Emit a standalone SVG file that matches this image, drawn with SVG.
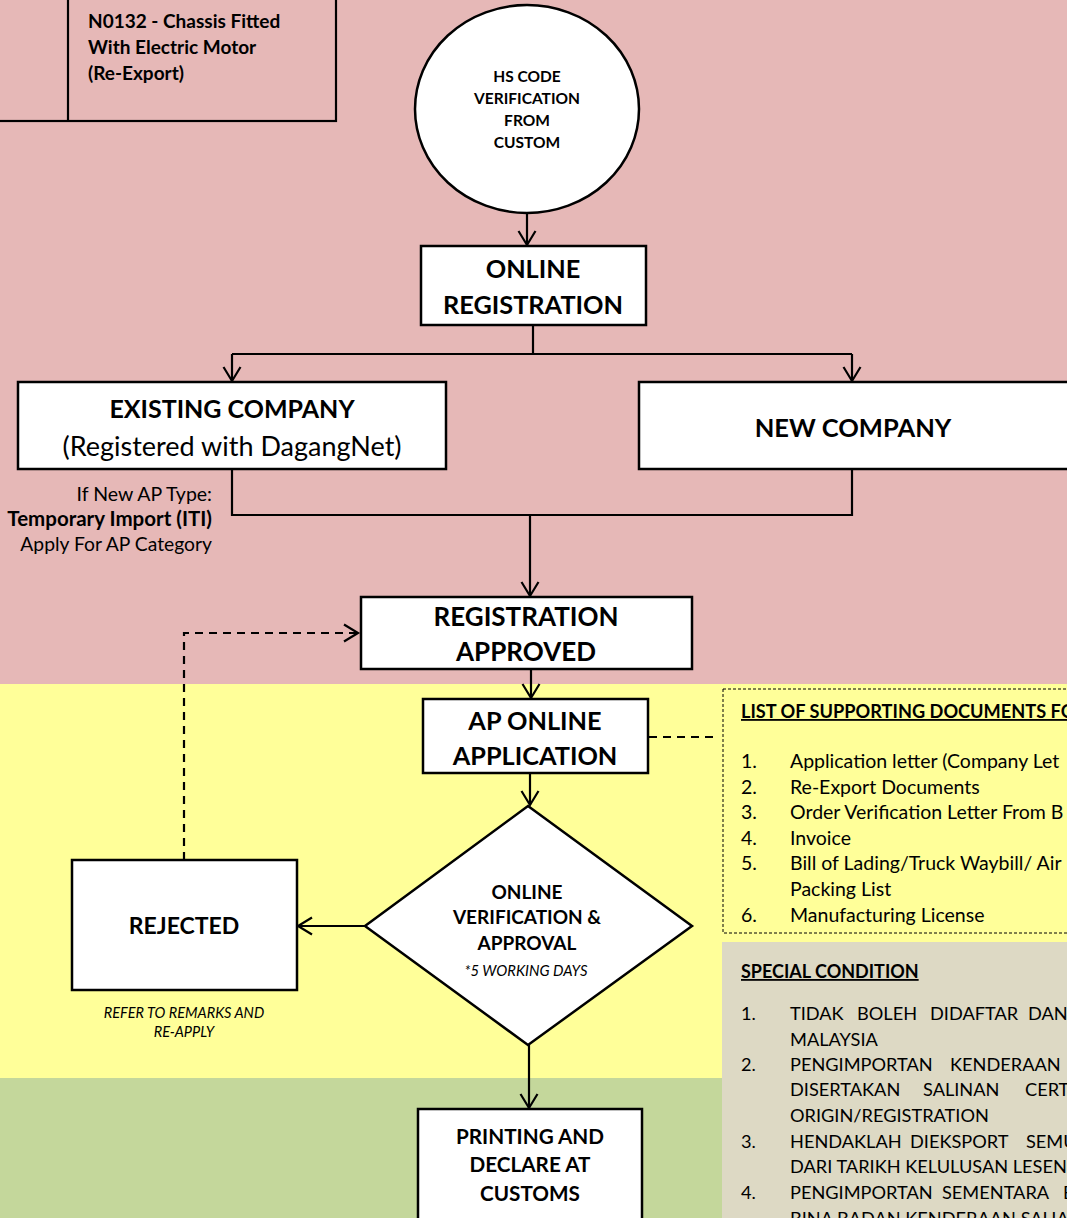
<svg xmlns="http://www.w3.org/2000/svg" width="1067" height="1218" viewBox="0 0 1067 1218">
<style>
.t{font-family:Lato,"Liberation Sans",sans-serif;fill:#000}
.b{font-weight:bold}
.i{font-style:italic}
.c{text-anchor:middle}
.r{text-anchor:end}
.box{fill:#fff;stroke:#000;stroke-width:2.5}
.ln{fill:none;stroke:#000;stroke-width:2.2}
.dash{fill:none;stroke:#000;stroke-width:2.2;stroke-dasharray:8,6}
.u{text-decoration:underline}
</style>
<defs>
<marker id="ah" viewBox="-16 -10 18 20" refX="0" refY="0" markerWidth="18" markerHeight="20" markerUnits="userSpaceOnUse" orient="auto" overflow="visible">
<path d="M-14,-8.5 L0,0 L-14,8.5" fill="none" stroke="#000" stroke-width="2.2"/>
</marker>
</defs>
<g id="background">
<rect x="0" y="0" width="1067" height="684" fill="#E6B8B7"/>
<rect x="0" y="684" width="1067" height="394" fill="#FFFF99"/>
<rect x="0" y="1078" width="722" height="140" fill="#C4D79B"/>
<rect x="722" y="942" width="345" height="276" fill="#DDD9C4"/>
</g>
<g id="header-box">
<rect x="-10" y="-10" width="346" height="131" fill="none" stroke="#000" stroke-width="2.2"/>
<line x1="68" y1="0" x2="68" y2="121" stroke="#000" stroke-width="2.2"/>
<text class="t b" font-size="19" x="88" y="28">N0132 - Chassis Fitted</text>
<text class="t b" font-size="19" x="88" y="54">With Electric Motor</text>
<text class="t b" font-size="19" x="88" y="80">(Re-Export)</text>
</g>
<g id="connectors">
<line class="ln" x1="527" y1="213" x2="527" y2="245" marker-end="url(#ah)"/>
<polyline class="ln" points="533,325 533,354"/>
<polyline class="ln" points="232,354 852,354"/>
<line class="ln" x1="232" y1="354" x2="232" y2="381" marker-end="url(#ah)"/>
<line class="ln" x1="852" y1="354" x2="852" y2="381" marker-end="url(#ah)"/>
<polyline class="ln" points="232,469 232,515 852,515 852,469"/>
<line class="ln" x1="530" y1="515" x2="530" y2="596" marker-end="url(#ah)"/>
<line class="ln" x1="531" y1="669" x2="531" y2="698" marker-end="url(#ah)"/>
<line class="ln" x1="530" y1="773" x2="530" y2="805" marker-end="url(#ah)"/>
<line class="ln" x1="365" y1="926" x2="298" y2="926" marker-end="url(#ah)"/>
<line class="ln" x1="529" y1="1045" x2="529" y2="1108" marker-end="url(#ah)"/>
<polyline class="dash" points="184,860 184,633 358,633" marker-end="url(#ah)"/>
<line class="dash" x1="649" y1="737" x2="716" y2="737"/>
</g>
<g id="hs-code">
<ellipse class="box" cx="527" cy="109" rx="112" ry="104"/>
<text class="t b c" font-size="15.5" x="527" y="82">HS CODE</text>
<text class="t b c" font-size="15.5" x="527" y="104">VERIFICATION</text>
<text class="t b c" font-size="15.5" x="527" y="126">FROM</text>
<text class="t b c" font-size="15.5" x="527" y="148">CUSTOM</text>
</g>
<g id="online-registration">
<rect class="box" x="421" y="246" width="225" height="79"/>
<text class="t b c" font-size="25.3" x="533" y="278">ONLINE</text>
<text class="t b c" font-size="25.3" x="533" y="314">REGISTRATION</text>
</g>
<g id="existing-company">
<rect class="box" x="18" y="382" width="428" height="87"/>
<text class="t b c" font-size="25" x="232" y="418">EXISTING COMPANY</text>
<text class="t c" font-size="27" x="232" y="456">(Registered with DagangNet)</text>
</g>
<g id="new-company">
<rect class="box" x="639" y="382" width="440" height="87"/>
<text class="t b c" font-size="25.5" x="853" y="437">NEW COMPANY</text>
</g>
<g id="ap-type-note">
<text class="t r" font-size="19.5" x="212" y="501">If New AP Type:</text>
<text class="t b r" font-size="20.5" x="212" y="526">Temporary Import (ITI)</text>
<text class="t r" font-size="19.3" x="212" y="551">Apply For AP Category</text>
</g>
<g id="registration-approved">
<rect class="box" x="361" y="597" width="331" height="72"/>
<text class="t b c" font-size="26" x="526" y="626">REGISTRATION</text>
<text class="t b c" font-size="26" x="526" y="661">APPROVED</text>
</g>
<g id="ap-online-application">
<rect class="box" x="423" y="699" width="225" height="74"/>
<text class="t b c" font-size="25.3" x="535" y="730">AP ONLINE</text>
<text class="t b c" font-size="25.3" x="535" y="765">APPLICATION</text>
</g>
<g id="verification">
<polygon class="box" points="528,806 692,926 528,1045 365,926"/>
<text class="t b c" font-size="19" x="527" y="899">ONLINE</text>
<text class="t b c" font-size="19" x="527" y="924">VERIFICATION &amp;</text>
<text class="t b c" font-size="19" x="527" y="950">APPROVAL</text>
<text class="t i c" font-size="14.8" x="526" y="976">*5 WORKING DAYS</text>
</g>
<g id="rejected">
<rect class="box" x="72" y="860" width="225" height="130"/>
<text class="t b c" font-size="23" x="184" y="934">REJECTED</text>
<text class="t i c" font-size="14.5" x="184" y="1018">REFER TO REMARKS AND</text>
<text class="t i c" font-size="14.5" x="184" y="1037">RE-APPLY</text>
</g>
<g id="printing">
<rect class="box" x="418" y="1109" width="224" height="130"/>
<text class="t b c" font-size="20.7" x="530" y="1144">PRINTING AND</text>
<text class="t b c" font-size="20.7" x="530" y="1172">DECLARE AT</text>
<text class="t b c" font-size="20.7" x="530" y="1201">CUSTOMS</text>
</g>
<g id="supporting-documents">
<rect x="723" y="689" width="360" height="244" fill="none" stroke="#000" stroke-width="1" stroke-dasharray="3,2"/>
<text class="t b u" font-size="18.2" x="741" y="718">LIST OF SUPPORTING DOCUMENTS FO</text>
<g class="t" font-size="19.5">
<text x="741" y="768">1.</text><text x="790" y="768">Application letter (Company Let</text>
<text x="741" y="794">2.</text><text x="790" y="794">Re-Export Documents</text>
<text x="741" y="819">3.</text><text x="790" y="819">Order Verification Letter From B</text>
<text x="741" y="845">4.</text><text x="790" y="845">Invoice</text>
<text x="741" y="870">5.</text><text x="790" y="870">Bill of Lading/Truck Waybill/ Air</text>
<text x="790" y="896">Packing List</text>
<text x="741" y="922">6.</text><text x="790" y="922">Manufacturing License</text>
</g>
</g>
<g id="special-condition">
<text class="t b u" font-size="18" x="741" y="978">SPECIAL CONDITION</text>
<g class="t" font-size="18.2">
<text x="741" y="1020">1.</text><text y="1020"><tspan x="790">TIDAK</tspan><tspan x="857">BOLEH</tspan><tspan x="930">DIDAFTAR</tspan><tspan x="1028">DAN</tspan></text>
<text x="790" y="1046">MALAYSIA</text>
<text x="741" y="1071">2.</text><text y="1071"><tspan x="790">PENGIMPORTAN</tspan><tspan x="950">KENDERAAN</tspan></text>
<text y="1096"><tspan x="790">DISERTAKAN</tspan><tspan x="923">SALINAN</tspan><tspan x="1025">CERT</tspan></text>
<text x="790" y="1122">ORIGIN/REGISTRATION</text>
<text x="741" y="1148">3.</text><text y="1148"><tspan x="790">HENDAKLAH</tspan><tspan x="910">DIEKSPORT</tspan><tspan x="1026">SEMU</tspan></text>
<text x="790" y="1173">DARI TARIKH KELULUSAN LESEN</text>
<text x="741" y="1199">4.</text><text y="1199"><tspan x="790">PENGIMPORTAN</tspan><tspan x="942">SEMENTARA</tspan><tspan x="1063">B</tspan></text>
<text x="790" y="1225">BINA BADAN KENDERAAN SAHA</text>
</g>
</g>
</svg>
